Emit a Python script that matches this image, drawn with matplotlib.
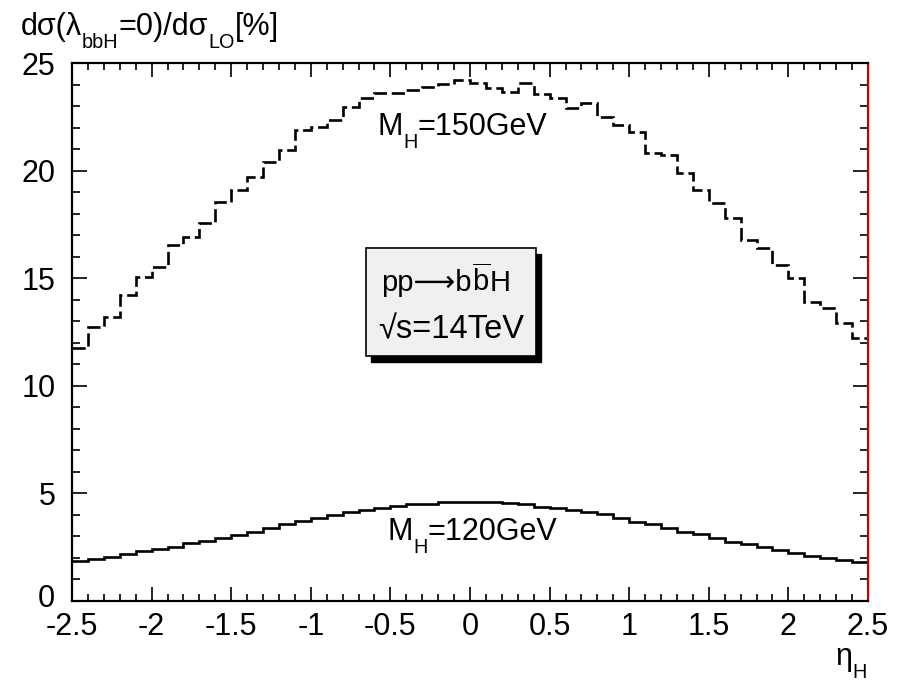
import numpy as np
import matplotlib
matplotlib.use("Agg")
import matplotlib.pyplot as plt
import matplotlib.transforms as mtransforms
from matplotlib.patches import Rectangle

# rapporto dsigma(lambda_bbH=0)/dsigma_LO in % per bin di eta_H (larghezza 0.1)
eta_edges = np.linspace(-2.5, 2.5, 51)

ratio_150 = [11.74, 12.75, 13.21, 14.22, 15.07, 15.53, 16.54, 16.93, 17.58, 18.56,
             19.10, 19.69, 20.41, 20.96, 21.89, 22.04, 22.35, 22.97, 23.36, 23.59,
             23.62, 23.75, 23.87, 24.02, 24.21, 24.06, 23.82, 23.64, 24.06, 23.55,
             23.36, 22.89, 23.13, 22.48, 22.12, 21.81, 20.80, 20.72, 19.87, 19.10,
             18.48, 17.78, 16.78, 16.39, 15.61, 15.00, 13.91, 13.60, 12.90, 12.20]

ratio_120 = [1.87, 1.95, 2.06, 2.18, 2.32, 2.40, 2.52, 2.68, 2.79, 2.94,
             3.07, 3.22, 3.41, 3.58, 3.73, 3.84, 4.00, 4.12, 4.23, 4.34,
             4.41, 4.49, 4.50, 4.61, 4.59, 4.59, 4.59, 4.54, 4.49, 4.38,
             4.31, 4.23, 4.12, 4.03, 3.84, 3.69, 3.56, 3.38, 3.22, 3.10,
             2.94, 2.76, 2.65, 2.49, 2.37, 2.25, 2.11, 1.98, 1.91, 1.80]

x_ticks = [-2.5, -2, -1.5, -1, -0.5, 0, 0.5, 1, 1.5, 2, 2.5]
x_tick_labels = ["-2.5", "-2", "-1.5", "-1", "-0.5", "0", "0.5", "1", "1.5", "2", "2.5"]
y_ticks = [0, 5, 10, 15, 20, 25]

matplotlib.rc('font', family=['Liberation Sans', 'DejaVu Sans'], size=22)
matplotlib.rc('mathtext', fontset='custom', rm='Liberation Sans',
              it='Liberation Sans:italic', bf='Liberation Sans:bold')

W, H = 910, 683
fig = plt.figure(figsize=(W / 100, H / 100), dpi=100)
renderer = fig.canvas.get_renderer()

# testo stile ROOT: pezzi normali e pedici molto abbassati, coordinate in pixel
def root_text(x, y, parts, fs=22, zorder=10):
	for s, sub in parts:
		size = fs * 0.65 if sub else fs
		yy = y + (fs * 0.42 * 100 / 72 if sub else 0)
		t = fig.text(x / W, 1 - yy / H, s, fontsize=size, ha='left',
		             va='baseline', zorder=zorder)
		x += t.get_window_extent(renderer).width

ax = fig.add_axes([72 / W, 1 - 601 / H, 796 / W, 538 / H])

ax.stairs(ratio_150, eta_edges, baseline=None, color='black', linewidth=1.9,
          linestyle=(0, (5, 1.8)))
ax.stairs(ratio_120, eta_edges, baseline=None, color='black', linewidth=1.9)

ax.set_xlim(-2.5, 2.5)
ax.set_ylim(0, 25)
ax.set_xticks(x_ticks)
ax.set_xticklabels(x_tick_labels)
ax.set_yticks(y_ticks)
ax.set_xticks(np.arange(-2.5, 2.51, 0.1), minor=True)
ax.set_yticks(np.arange(0, 25.1, 1), minor=True)
ax.tick_params(which='both', direction='in', top=True, right=True, width=1.2)
ax.tick_params(axis='x', which='major', length=10, pad=8)
ax.tick_params(axis='x', which='minor', length=5)
ax.tick_params(axis='y', which='major', length=11, pad=12)
ax.tick_params(axis='y', which='minor', length=6)
for s in ax.spines.values():
	s.set_linewidth(1.6)
ax.spines['right'].set_color('#cc0000')

# lo "0" dell'asse y un po' più in alto, come nell'originale
lab0 = ax.yaxis.get_major_ticks()[0].label1
lab0.set_transform(lab0.get_transform() +
                   mtransforms.ScaledTranslation(0, 4 / 72, fig.dpi_scale_trans))

# riquadro con ombra (pixel -> frazione degli assi)
bx, by = (366 - 72) / 796, (601 - 356) / 538
bw, bh = 170 / 796, 108 / 538
ax.add_patch(Rectangle((bx + 5 / 796, by - 6 / 538), bw, bh, transform=ax.transAxes,
                       facecolor='black', edgecolor='black', zorder=4))
ax.add_patch(Rectangle((bx, by), bw, bh, transform=ax.transAxes,
                       facecolor='#f0f0f0', edgecolor='black', linewidth=1.2, zorder=5))

root_text(381, 291, [('pp⟶b', False), (r'$\overline{\rm b}$', False), ('H', False)], fs=21)
root_text(378, 338, [('√s=14TeV', False)], fs=23.5)

# etichette delle curve
root_text(378, 135, [('M', False), ('H', True), ('=150GeV', False)])
root_text(388, 540, [('M', False), ('H', True), ('=120GeV', False)])

# titoli degli assi
root_text(21, 35, [('dσ(λ', False), ('bbH', True), ('=0)/dσ', False),
                   ('LO', True), ('[%]', False)])
root_text(835, 665, [('η', False), ('H', True)])

fig.savefig('out.png', dpi=100)
